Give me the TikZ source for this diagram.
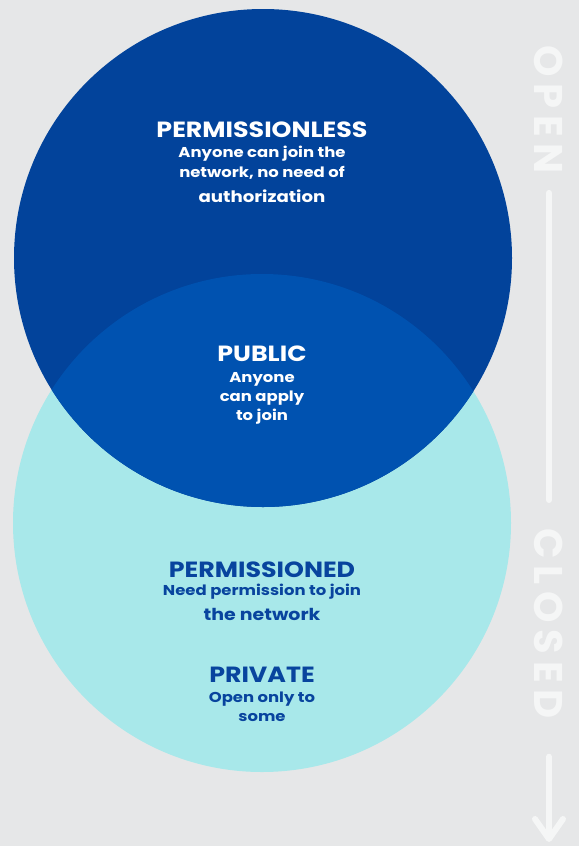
\documentclass[tikz,border=0pt]{standalone}
\usepackage{fontspec}
\setmainfont{Poppins}[FakeStretch=1.15]
\newfontfamily\sidefont{Poppins}[LetterSpace=17]
\usetikzlibrary{positioning,arrows.meta}

\definecolor{bgGray}{RGB}{230,231,232}
\definecolor{deepBlue}{RGB}{2,67,155}
\definecolor{midBlue}{RGB}{0,82,176}
\definecolor{paleCyan}{RGB}{168,232,234}
\definecolor{inkBlue}{RGB}{8,68,158}
\definecolor{sideWhite}{RGB}{245,246,246}

\tikzset{
  title/.style={font=\bfseries\fontsize{22}{24}\selectfont, inner sep=0pt},
  body/.style={font=\bfseries\fontsize{14.3}{19}\selectfont, align=center, inner sep=0pt},
  side/.style={font=\sidefont\bfseries\fontsize{40}{40}\selectfont, text=sideWhite, rotate=-90, inner sep=0pt},
  rail/.style={draw=sideWhite, line width=6pt, line cap=round, line join=round},
}

\begin{document}
\begin{tikzpicture}[x=1pt,y=-1pt]
  \fill[bgGray] (0,0) rectangle (579,846);
  % the two sets
  \fill[paleCyan] (262,523) circle[radius=249];
  \fill[deepBlue] (263,258) circle[radius=249];
  \begin{scope}
    \clip (262,523) circle[radius=249];
    \fill[midBlue] (263,258) circle[radius=249];
  \end{scope}

  % upper circle
  \node[title, text=white] (permlessTitle) at (262,130) {PERMISSIONLESS};
  \node[body, text=white, below=8pt of permlessTitle, font=\bfseries\fontsize{14.3}{20}\selectfont] (permlessText)
    {Anyone can join the\\network, no need of\\[5pt]{\fontsize{15.8}{18}\selectfont authorization}};

  % overlap
  \node[title, text=white] (publicTitle) at (262,354) {PUBLIC};
  \node[body, text=white, below=10pt of publicTitle] (publicText)
    {Anyone\\can apply\\to join};

  % lower circle
  \node[title, text=inkBlue] (permedTitle) at (262,570) {PERMISSIONED};
  \node[body, text=inkBlue, below=6pt of permedTitle] (permedText)
    {Need permission to join\\[6pt]{\fontsize{16.5}{18}\selectfont the network}};
  \node[title, text=inkBlue] (privateTitle) at (262,675) {PRIVATE};
  \node[body, text=inkBlue, below=9pt of privateTitle] (privateText)
    {Open only to\\some};

  % open / closed scale
  \node[side, anchor=west] (openLabel) at (549,45) {OPEN};
  \node[side, anchor=west] (closedLabel) at (549,528) {CLOSED};
  \coordinate (arrowEnd) at (549,842);
  \draw[rail, shorten <=19pt, shorten >=28pt] (openLabel.east) -- (closedLabel.west);
  \draw[rail, shorten <=38pt, -{Straight Barb[length=20pt,width=28pt,round]}] (closedLabel.east) -- (arrowEnd);
\end{tikzpicture}
\end{document}
